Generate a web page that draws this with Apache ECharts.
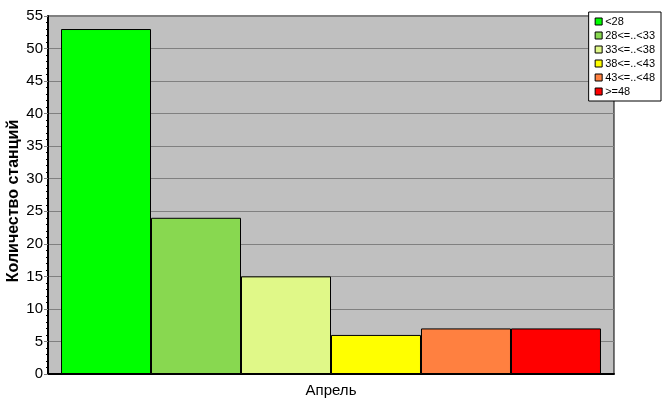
<!DOCTYPE html>
<html>
<head>
<meta charset="utf-8">
<script src="https://cdn.jsdelivr.net/npm/echarts@6/dist/echarts.min.js"></script>
<style>html,body{margin:0;padding:0;background:#fff;}#c{width:667px;height:415px;}</style>
</head>
<body>
<div id="c"></div>
<script>
var categories = ['Апрель'];
var seriesNames = ['<28', '28<=..<33', '33<=..<38', '38<=..<43', '43<=..<48', '>=48'];
var seriesValues = [[53], [24], [15], [6], [7], [7]];
var seriesColors = ['#00FF00', '#88D850', '#E0F888', '#FFFF00', '#FF8040', '#FF0000'];
var yTicks = {min: 0, max: 55, interval: 5};

var chart = echarts.init(document.getElementById('c'));
var font = 'Liberation Sans, Arial, sans-serif';
chart.setOption({
  animation: false,
  textStyle: {fontFamily: font},
  grid: {left: 48, right: 53, top: 16, bottom: 41, containLabel: false, outerBoundsMode: 'none', show: true, backgroundColor: '#C0C0C0', borderColor: '#000', borderWidth: 1},
  legend: {
    orient: 'vertical', right: 6, top: 12,
    data: seriesNames,
    itemWidth: 7, itemHeight: 7, itemGap: 3,
    backgroundColor: '#fff', borderColor: '#000', borderWidth: 1,
    padding: [4, 6, 4, 6],
    icon: 'rect',
    textStyle: {fontSize: 11, lineHeight: 11, color: '#000', fontFamily: font, padding: [0, 0, 0, -2]},
    itemStyle: {borderColor: '#000', borderWidth: 1}
  },
  xAxis: {
    type: 'category', data: categories,
    axisLine: {lineStyle: {color: '#000', width: 2}},
    axisTick: {alignWithLabel: true, length: 5, lineStyle: {color: '#808080'}},
    axisLabel: {fontSize: 15, color: '#000', margin: 9}
  },
  yAxis: {
    type: 'value', min: yTicks.min, max: yTicks.max, interval: yTicks.interval,
    name: 'Количество станций', nameLocation: 'middle', nameGap: 26, nameMoveOverlap: false,
    nameTextStyle: {fontSize: 16, fontWeight: 'bold', color: '#000', padding: [0, 12, 0, 0]},
    axisLine: {show: true, lineStyle: {color: '#000', width: 2}},
    axisTick: {show: true, length: 4, lineStyle: {color: '#808080'}},
    minorTick: {show: true, splitNumber: 5, length: 2, lineStyle: {color: '#000'}},
    splitLine: {lineStyle: {color: '#808080', width: 1}},
    axisLabel: {fontSize: 15, color: '#000', margin: 5}
  },
  series: seriesNames.map(function (n, i) {
    return {
      name: n, type: 'bar', data: seriesValues[i],
      barGap: '0%', barCategoryGap: '4.6%',
      itemStyle: {color: seriesColors[i], borderColor: '#000', borderWidth: 1}
    };
  })
});
</script>
</body>
</html>
